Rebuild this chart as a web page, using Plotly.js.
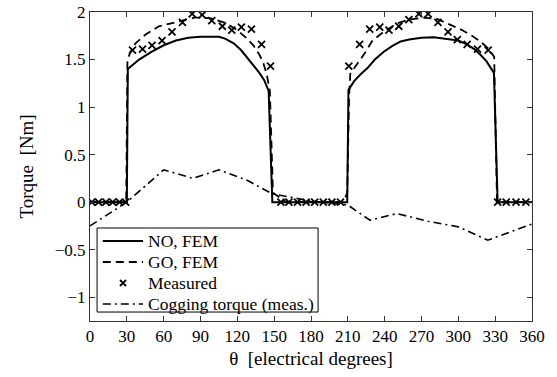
<!DOCTYPE html>
<html>
<head>
<meta charset="utf-8">
<script src="https://cdn.plot.ly/plotly-3.0.1.min.js"></script>
<style>html,body{margin:0;padding:0;background:#fff;}#chart{width:557px;height:377px;}</style>
</head>
<body>
<div id="chart"></div>
<script>
// NO, FEM (solid)
const thetaNO = [0, 30, 30.8, 35, 40, 50, 60, 70, 80, 90, 100, 105, 110, 117, 123, 128, 133, 138, 142, 145.5, 148.5, 150, 180, 209.5, 210.5, 215, 220, 226, 232, 239, 246, 253, 260, 270, 280, 290, 300, 307, 313, 318, 323, 329, 332, 360];
const torqueNO = [0, 0, 1.40, 1.45, 1.50, 1.58, 1.65, 1.70, 1.73, 1.74, 1.74, 1.74, 1.72, 1.67, 1.60, 1.52, 1.45, 1.36, 1.28, 1.17, 0, 0, 0, 0, 1.18, 1.27, 1.34, 1.41, 1.50, 1.58, 1.64, 1.69, 1.71, 1.73, 1.735, 1.72, 1.70, 1.66, 1.61, 1.55, 1.48, 1.36, 0, 0];

// GO, FEM (dashed)
const thetaGO = [0, 29.5, 30.5, 33, 37, 45, 56, 65, 73, 85, 92, 100, 111, 120, 127, 133, 138, 141, 144, 146.5, 149, 155, 160, 180, 205, 208, 209.5, 211, 212, 218, 224, 230, 240, 250, 260, 272, 282, 291, 303, 311, 318, 324, 329.2, 331.5, 360];
const torqueGO = [0, 0, 1.50, 1.58, 1.67, 1.76, 1.85, 1.88, 1.90, 1.94, 1.94, 1.93, 1.88, 1.81, 1.73, 1.65, 1.55, 1.47, 1.34, 1.17, 0.10, 0.04, 0, 0, 0, 0.05, 0.10, 1.10, 1.35, 1.46, 1.57, 1.70, 1.80, 1.88, 1.92, 1.94, 1.93, 1.88, 1.81, 1.75, 1.69, 1.62, 1.53, 0, 0];

// Measured (x markers)
const thetaMeas = [1.5, 7, 13, 18.5, 24, 29, 34.6, 42.8, 50.5, 58.7, 66.8, 75.3, 83.2, 91.4, 99.2, 107.8, 115.5, 123.3, 131.5, 139.7, 147, 155.5, 162, 169, 176, 183, 190, 197, 204, 210.8, 219.6, 227.8, 236, 243.5, 251.5, 259.7, 267.8, 275.4, 283.4, 291.6, 299.2, 307.2, 315.6, 324.3, 332, 339, 347, 355];
const torqueMeas = [0, 0, 0, 0, 0, 0, 1.60, 1.61, 1.65, 1.70, 1.79, 1.89, 1.98, 1.97, 1.91, 1.85, 1.81, 1.84, 1.82, 1.66, 1.43, 0, 0, 0, 0, 0, 0, 0, 0, 1.43, 1.66, 1.82, 1.84, 1.81, 1.85, 1.92, 1.98, 1.98, 1.89, 1.79, 1.71, 1.66, 1.61, 1.60, 0, 0, 0, 0];

// Cogging torque (meas.) (dash-dot)
const thetaCog = [0, 30, 60, 84, 105, 128, 148, 180, 210, 228, 250, 275, 300, 324, 360];
const torqueCog = [-0.25, 0, 0.34, 0.25, 0.34, 0.23, 0.09, 0.01, -0.03, -0.19, -0.12, -0.20, -0.26, -0.40, -0.23];

const xTicks = [0, 30, 60, 90, 120, 150, 180, 210, 240, 270, 300, 330, 360];
const yTicks = [-1, -0.5, 0, 0.5, 1, 1.5, 2];
const yTickText = ['\u22121', '\u22120.5', '0', '0.5', '1', '1.5', '2'];
const legendNames = ['NO, FEM', 'GO, FEM', 'Measured', 'Cogging torque (meas.)'];

const FONT = '"Liberation Serif", "Times New Roman", serif';
const DASH_GO = '8px,5px';
const DASH_COG = '8px,4px,2px,4px';

const traces = [
  {x: thetaNO, y: torqueNO, name: legendNames[0], mode: 'lines',
   line: {color: '#000', width: 2}},
  {x: thetaGO, y: torqueGO, name: legendNames[1], mode: 'lines',
   line: {color: '#000', width: 1.8, dash: DASH_GO}},
  {x: thetaMeas, y: torqueMeas, name: legendNames[2], mode: 'markers',
   marker: {symbol: 'x-thin', size: 7, color: '#000', line: {color: '#000', width: 1.8}}},
  {x: thetaCog, y: torqueCog, name: legendNames[3], mode: 'lines',
   line: {color: '#000', width: 1.6, dash: DASH_COG}}
];

// Hand-built legend box (paper coords relative to the plot area)
const L = {x0: 0.016, x1: 0.516, y0: 0.029, y1: 0.301};
const rowY = [0.259, 0.191, 0.123, 0.055];
const sx0 = 0.029, sx1 = 0.120, tx = 0.126, mx = 0.0747;
const ddx = 3 / 442, ddy = 3 / 309;

const shapes = [
  {type: 'rect', xref: 'paper', yref: 'paper', x0: L.x0, x1: L.x1, y0: L.y0, y1: L.y1,
   fillcolor: '#fff', line: {color: '#000', width: 1}, layer: 'above'},
  {type: 'line', xref: 'paper', yref: 'paper', x0: sx0, x1: sx1, y0: rowY[0], y1: rowY[0],
   line: {color: '#000', width: 2}, layer: 'above'},
  {type: 'line', xref: 'paper', yref: 'paper', x0: sx0, x1: sx1, y0: rowY[1], y1: rowY[1],
   line: {color: '#000', width: 1.8, dash: DASH_GO}, layer: 'above'},
  {type: 'path', xref: 'paper', yref: 'paper', layer: 'above',
   path: `M ${mx - ddx} ${rowY[2] - ddy} L ${mx + ddx} ${rowY[2] + ddy} M ${mx - ddx} ${rowY[2] + ddy} L ${mx + ddx} ${rowY[2] - ddy}`,
   line: {color: '#000', width: 1.8}},
  {type: 'line', xref: 'paper', yref: 'paper', x0: sx0, x1: sx1, y0: rowY[3], y1: rowY[3],
   line: {color: '#000', width: 1.6, dash: DASH_COG}, layer: 'above'}
];

const annotations = legendNames.map((t, i) => ({
  xref: 'paper', yref: 'paper', x: tx, y: rowY[i], xanchor: 'left', yanchor: 'middle',
  text: t, showarrow: false, font: {family: FONT, size: 17.5, color: '#000'}
}));

const layout = {
  width: 557, height: 377,
  margin: {l: 90, r: 25, t: 12, b: 56},
  paper_bgcolor: '#fff', plot_bgcolor: '#fff',
  font: {family: FONT, size: 16, color: '#000'},
  showlegend: false,
  shapes: shapes,
  annotations: annotations,
  xaxis: {range: [0, 360], tickvals: xTicks, ticktext: xTicks.map(String),
          ticks: 'inside', ticklen: 5, tickcolor: '#333', mirror: 'ticks',
          showline: true, linecolor: '#333', linewidth: 1, showgrid: false, zeroline: false,
          tickfont: {family: FONT, size: 17, color: '#000'},
          title: {text: 'θ\u00a0\u00a0[electrical degrees]', font: {family: FONT, size: 19, color: '#000'}, standoff: 6}},
  yaxis: {range: [-1.25, 2], tickvals: yTicks, ticktext: yTickText,
          ticks: 'inside', ticklen: 5, tickcolor: '#333', mirror: 'ticks',
          showline: true, linecolor: '#333', linewidth: 1, showgrid: false, zeroline: false,
          tickfont: {family: FONT, size: 17, color: '#000'},
          title: {text: 'Torque\u00a0\u00a0[Nm]', font: {family: FONT, size: 19, color: '#000'}, standoff: 16}}
};

Plotly.newPlot('chart', traces, layout, {displayModeBar: false, staticPlot: true});
</script>
</body>
</html>
